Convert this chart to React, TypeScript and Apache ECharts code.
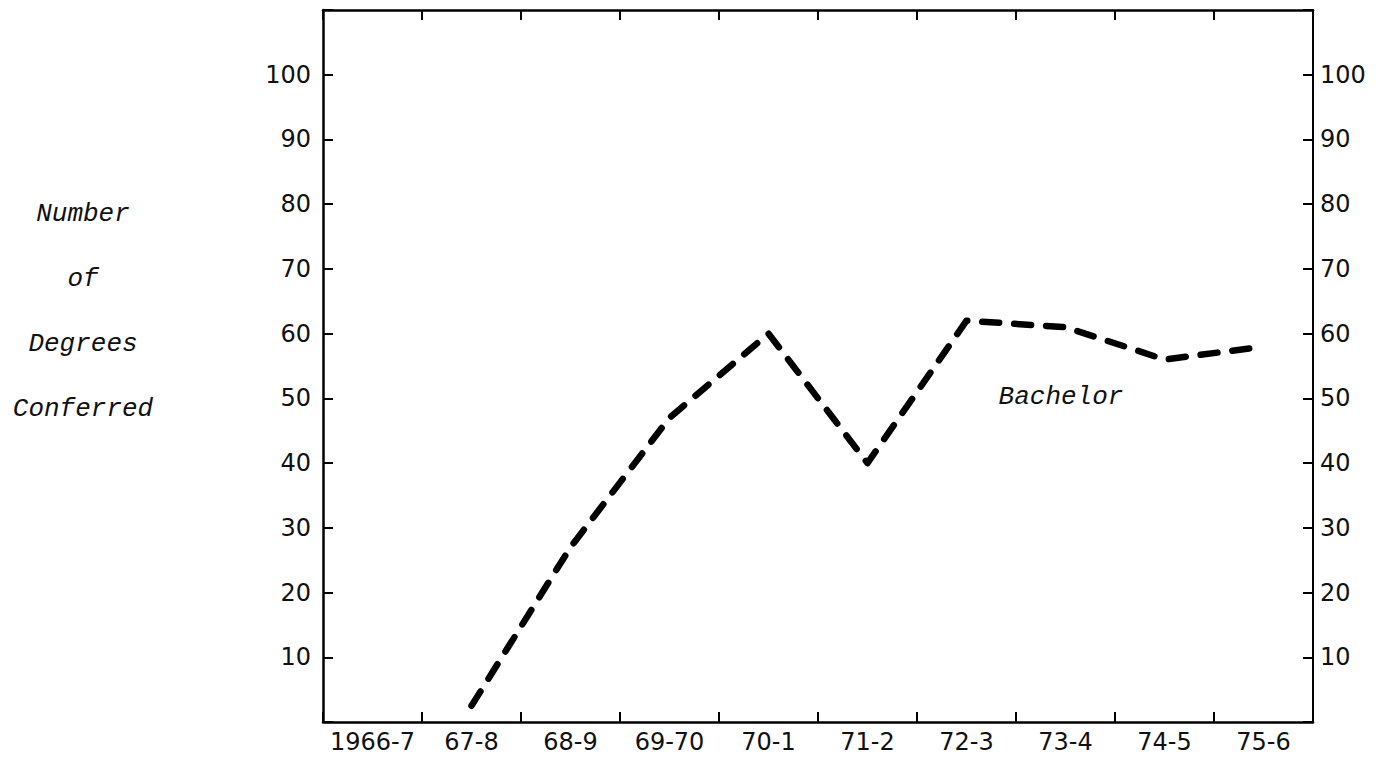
import React, { useEffect, useRef } from "react";
import * as echarts from "echarts";

const categories = ["1966-7", "67-8", "68-9", "69-70", "70-1", "71-2", "72-3", "73-4", "74-5", "75-6"];
const bachelorValues: (number | null)[] = [null, 2.5, 27, 47, 60, 40, 62, 61, 56, 58];
const yTickLabels = [10, 20, 30, 40, 50, 60, 70, 80, 90, 100];
const yTitleLines = ["Number", "of", "Degrees", "Conferred"];
const seriesLabel = "Bachelor";

const numFont = "'DejaVu Sans', sans-serif";
const italicFont = "'Liberation Mono', 'DejaVu Sans Mono', monospace";

export default function App() {
  const ref = useRef<HTMLDivElement>(null);
  useEffect(() => {
    if (!ref.current) return;
    const chart = echarts.init(ref.current, undefined, { renderer: "svg" });
    const axisLine = { show: true, onZero: false, lineStyle: { color: "#000", width: 2.5 } };
    const tick = { show: true, inside: true, length: 10, lineStyle: { color: "#000", width: 2 } };
    const yFormatter = (v: number) => (yTickLabels.indexOf(v) >= 0 ? String(v) : "");
    chart.setOption({
      animation: false,
      backgroundColor: "#fff",
      grid: { left: 323, right: 72, top: 10, bottom: 38, containLabel: false },
      xAxis: [
        {
          type: "category",
          data: categories,
          position: "bottom",
          boundaryGap: true,
          axisLine,
          axisTick: tick,
          axisLabel: { color: "#111", fontFamily: numFont, fontSize: 24, margin: 8, interval: 0 },
          splitLine: { show: false },
        },
        {
          type: "category",
          data: categories,
          position: "top",
          boundaryGap: true,
          axisLine,
          axisTick: tick,
          axisLabel: { show: false },
          splitLine: { show: false },
        },
      ],
      yAxis: [
        {
          type: "value",
          min: 0,
          max: 110,
          interval: 10,
          position: "left",
          axisLine,
          axisTick: tick,
          axisLabel: { color: "#111", fontFamily: numFont, fontSize: 24, margin: 12, formatter: yFormatter },
          splitLine: { show: false },
        },
        {
          type: "value",
          min: 0,
          max: 110,
          interval: 10,
          position: "right",
          axisLine: { show: true, onZero: false, lineStyle: { color: "#000", width: 2 } },
          axisTick: tick,
          axisLabel: { color: "#111", fontFamily: numFont, fontSize: 24, margin: 7, formatter: yFormatter },
          splitLine: { show: false },
        },
      ],
      series: [
        {
          name: seriesLabel,
          type: "line",
          data: bachelorValues,
          xAxisIndex: 0,
          yAxisIndex: 0,
          symbol: "none",
          smooth: false,
          lineStyle: { color: "#000", width: 6.5, type: [17, 15], cap: "round", join: "round" },
        },
      ],
      graphic: [
        {
          type: "text",
          x: 83,
          y: 311,
          style: {
            text: yTitleLines.join("\n"),
            font: `italic 26px ${italicFont}`,
            fill: "#111",
            align: "center",
            verticalAlign: "middle",
            lineHeight: 65,
          },
        },
        {
          type: "text",
          x: 1061,
          y: 397,
          style: {
            text: seriesLabel,
            font: `italic 26px ${italicFont}`,
            fill: "#111",
            align: "center",
            verticalAlign: "middle",
          },
        },
      ],
    });
    return () => chart.dispose();
  }, []);
  return (
    <div
      ref={ref}
      style={{ position: "fixed", left: 0, top: 0, width: 1385, height: 760, background: "#fff" }}
    />
  );
}
